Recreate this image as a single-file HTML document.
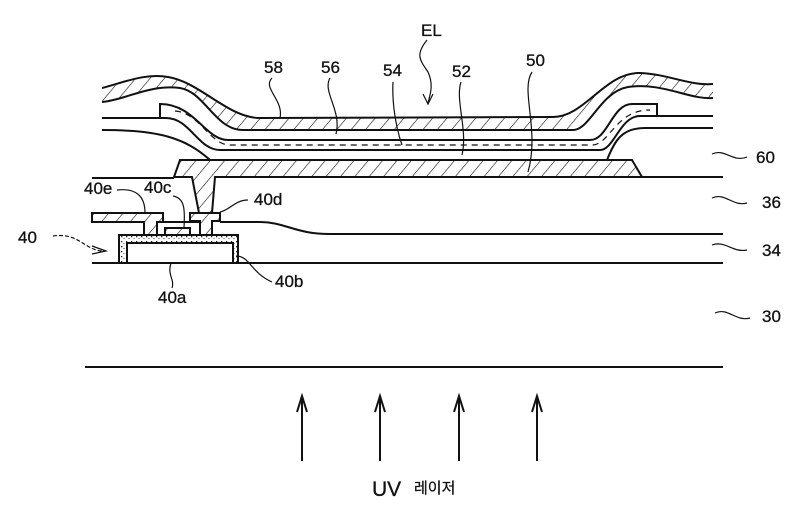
<!DOCTYPE html>
<html><head><meta charset="utf-8"><style>
html,body{margin:0;padding:0;background:#fff;}
svg{display:block;}
text{font-family:"Liberation Sans","Noto Sans CJK KR",sans-serif;fill:#111;stroke:#111;stroke-width:0.3;}
</style></head><body>
<svg width="800" height="506" viewBox="0 0 800 506" xmlns="http://www.w3.org/2000/svg">
<defs>
<pattern id="h" width="11" height="11" patternUnits="userSpaceOnUse" patternTransform="rotate(40)">
<rect width="11" height="11" fill="#fff"/><line x1="0" y1="0" x2="0" y2="11" stroke="#111" stroke-width="1.2"/>
</pattern>
<pattern id="d" width="5" height="5" patternUnits="userSpaceOnUse">
<rect width="5" height="5" fill="#fff"/><rect x="1" y="1" width="1.3" height="1.3" fill="#222"/><rect x="3.5" y="3" width="1" height="1" fill="#444"/>
</pattern>
</defs>
<g fill="none" stroke="#111" stroke-width="2">
<!-- layer 58 hatched -->
<path d="M102,88 C125,82 145,73 168,77 C200,82 228,118 260,118 L553,117 C585,117 605,72 640,73 C668,74 690,86 713,84 L713,98 C690,100 662,82 628,87 C600,92 590,130 573,130 L243,130 C215,130 205,92 180,88 C150,84 125,100 102,102 Z" fill="url(#h)" stroke="none"/>
<path d="M102,88 C125,82 145,73 168,77 C200,82 228,118 260,118 L553,117 C585,117 605,72 640,73 C668,74 690,86 713,84"/>
<path d="M713,98 C690,100 662,82 628,87 C600,92 590,130 573,130 L243,130 C215,130 205,92 180,88 C150,84 125,100 102,102"/>
<!-- dashed layer 54 -->
<path d="M160,118 L160,104 C195,104 205,140 228,140 L590,140 C608,140 612,104 632,104 L657,104 L657,116 L640,116 C620,116 614,150 600,150 L220,150 C198,150 190,118 166,118 Z" fill="#fff"/>
<path d="M175,111 C200,113 210,145 230,145 L592,145 C610,145 615,110 650,110" stroke-width="1.2" stroke-dasharray="6,5"/>
<line x1="102" y1="118" x2="160" y2="118"/>
<line x1="657" y1="116" x2="713" y2="116"/>
<path d="M102,130 C160,130 185,138 210,160"/>
<path d="M607,160 C615,140 622,128 645,128 L713,128"/>
<!-- 50 + via -->
<path d="M180,160 L632,160 L642,177 L215,177 L212,213 L199,213 L192,177 L174,177 Z" fill="url(#h)"/>
<line x1="642" y1="177" x2="723" y2="177"/>
<line x1="92" y1="178" x2="174" y2="178"/>
<!-- 40d -->
<path d="M190,213 L220,213 L220,221 L212,221 L212,235 L200,235 L200,221 L190,221 Z" fill="url(#h)"/>
<!-- 40e -->
<path d="M92,213 L163,213 L163,222 L157,222 L157,235 L144,235 L144,222 L92,222 Z" fill="url(#h)"/>
<!-- 40c -->
<path d="M157,235 L157,222 L200,222 L200,235"/>
<rect x="165" y="228" width="25" height="7" fill="url(#h)"/>
<!-- layer 34 top -->
<path d="M220,222 L260,222 C285,222 295,234 330,234 L723,234"/>
<!-- 40b dotted -->
<path d="M119,263 L119,235 L238,235 L238,263 L233,263 L233,243 L127,243 L127,263 Z" fill="url(#d)"/>
<line x1="92" y1="263" x2="723" y2="263"/>
<line x1="85" y1="367" x2="723" y2="367"/>
</g>
<!-- leaders -->
<g fill="none" stroke="#111" stroke-width="1.2">
<path d="M272,78 C262,88 284,100 280,118"/>
<path d="M330,78 C322,92 342,110 336,134"/>
<path d="M393,82 C392,100 395,125 402,145"/>
<path d="M461,82 C455,100 468,130 462,155"/>
<path d="M532,72 C520,90 540,130 528,172"/>
<path d="M427,40 C415,55 420,60 428,72 C434,85 430,95 428,103"/>
<path d="M423,94 L428,104 L433,94"/>
<path d="M712,154 C725,148 733,163 747,157"/>
<path d="M712,198 C725,192 733,207 747,203"/>
<path d="M712,245 C725,240 733,253 747,250"/>
<path d="M715,313 C728,307 736,322 750,318"/>
<path d="M53,236 C80,232 85,252 105,251" stroke-dasharray="4,2"/>
<path d="M92,246 L106,251 L92,254"/>
<path d="M117,190 C135,188 145,195 145,213"/>
<path d="M173,196 C185,198 185,210 184,228"/>
<path d="M220,212 C230,210 235,200 248,200"/>
<path d="M171,263 C167,275 175,280 172,288"/>
<path d="M236,256 C250,256 250,272 272,282"/>
</g>
<!-- UV arrows -->
<g stroke="#111" stroke-width="2" fill="none">
<line x1="302" y1="397" x2="302" y2="461"/><path d="M297,412 L302,396 L307,412"/>
<line x1="380" y1="397" x2="380" y2="461"/><path d="M375,412 L380,396 L385,412"/>
<line x1="459" y1="397" x2="459" y2="461"/><path d="M454,412 L459,396 L464,412"/>
<line x1="537" y1="397" x2="537" y2="461"/><path d="M532,412 L537,396 L542,412"/>
</g>
<g font-size="17">
<text x="421" y="36">EL</text>
<text x="264" y="73">58</text>
<text x="321" y="73">56</text>
<text x="383" y="76">54</text>
<text x="452" y="77">52</text>
<text x="526" y="66">50</text>
<text x="756" y="163">60</text>
<text x="762" y="208">36</text>
<text x="762" y="256">34</text>
<text x="762" y="322">30</text>
<text x="18" y="243">40</text>
<text x="84" y="194">40e</text>
<text x="144" y="193">40c</text>
<text x="254" y="205">40d</text>
<text x="158" y="303">40a</text>
<text x="275" y="287">40b</text>
<text x="372" y="496" font-size="21">UV</text>
<text x="414" y="493" font-size="15">레이저</text>
</g>
</svg>
</body></html>
